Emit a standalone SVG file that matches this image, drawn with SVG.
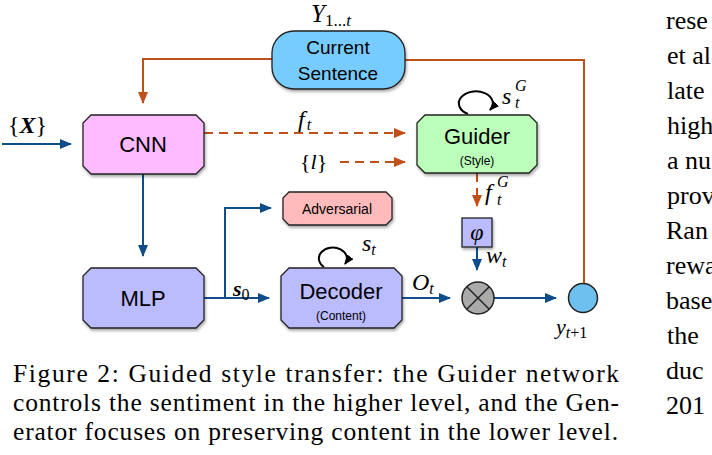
<svg xmlns="http://www.w3.org/2000/svg" width="712" height="455" viewBox="0 0 712 455">
<style>
.box{stroke:#222;stroke-width:1.3;filter:url(#sh)}
.lbl{font-family:"Liberation Sans",Arial,sans-serif;fill:#000;text-anchor:middle}
.m{font-family:"Liberation Serif","Times New Roman",serif;font-style:italic;fill:#000}
.u{font-style:normal}
.blue{stroke:#0F4C8A;stroke-width:2;fill:none}
.or{stroke:#C0501A;stroke-width:2;fill:none}
.dash{stroke-dasharray:9,6}
.cap{font-family:"Liberation Serif","Times New Roman",serif;font-size:25.5px;fill:#000}
.col{font-family:"Liberation Serif","Times New Roman",serif;font-size:26px;fill:#000}
</style>
<defs>
<filter id="sh" x="-10%" y="-10%" width="130%" height="140%"><feDropShadow dx="1" dy="2" stdDeviation="1.5" flood-color="#000" flood-opacity="0.35"/></filter>
<marker id="ab" markerWidth="12" markerHeight="10" refX="11" refY="5" orient="auto" markerUnits="userSpaceOnUse"><path d="M0,0 L12,5 L0,10 Z" fill="#0F4C8A"/></marker>
<marker id="ao" markerWidth="12" markerHeight="10" refX="11" refY="5" orient="auto" markerUnits="userSpaceOnUse"><path d="M0,0 L12,5 L0,10 Z" fill="#C0501A"/></marker>
<marker id="ak" markerWidth="10" markerHeight="8" refX="9" refY="4" orient="auto" markerUnits="userSpaceOnUse"><path d="M0,0 L10,4 L0,8 Z" fill="#000"/></marker>
</defs>

<g id="connectors">
<path class="or" d="M272,59 H143 V103" marker-end="url(#ao)"/>
<path class="or" d="M405,60 H584 V283"/>
<path class="or dash" d="M204,133 H405" marker-end="url(#ao)"/>
<path class="or dash" d="M340,162 H405" marker-end="url(#ao)"/>
<path class="or dash" d="M477,173 V206" marker-end="url(#ao)"/>
<path class="blue" d="M2,144 H71" marker-end="url(#ab)"/>
<path class="blue" d="M143,174 V256" marker-end="url(#ab)"/>
<path class="blue" d="M204,298 H269" marker-end="url(#ab)"/>
<path class="blue" d="M225,298 V208 H271" marker-end="url(#ab)"/>
<path class="blue" d="M477,247 V270" marker-end="url(#ab)"/>
<path class="blue" d="M402,298 H450" marker-end="url(#ab)"/>
<path class="blue" d="M494,298 H556" marker-end="url(#ab)"/>
<path d="M468,114 A17,12 0 1 1 490,110" fill="none" stroke="#000" stroke-width="2" marker-end="url(#ak)"/>
<path d="M324,267 A14,11 0 1 1 345,264" fill="none" stroke="#000" stroke-width="2" marker-end="url(#ak)"/>
</g>

<g id="current">
<rect class="box" x="272" y="31" width="133" height="58" rx="22" fill="#77CCFF"/>
<text class="lbl" x="338" y="54" font-size="19">Current</text>
<text class="lbl" x="338" y="80" font-size="19">Sentence</text>
<text class="m" x="311" y="22" font-size="25">Y<tspan class="u" font-size="17" dy="4">1...</tspan><tspan font-size="17">t</tspan></text>
</g>

<g id="cnn">
<path class="box" fill="#FFBBFF" d="M91,115 H196 L204,123 V166 L196,174 H91 L83,166 V123 Z"/>
<text class="lbl" x="143" y="152" font-size="22">CNN</text>
</g>

<g id="guider">
<path class="box" fill="#BBFFBB" d="M425,115 H529 L537,123 V165 L529,173 H425 L417,165 V123 Z"/>
<text class="lbl" x="477" y="144" font-size="22">Guider</text>
<text class="lbl" x="477" y="165" font-size="12">(Style)</text>
</g>

<g id="mlp">
<path class="box" fill="#BBBBFF" d="M91,268 H196 L204,276 V320 L196,328 H91 L83,320 V276 Z"/>
<text class="lbl" x="143" y="306" font-size="22">MLP</text>
</g>

<g id="decoder">
<path class="box" fill="#BBBBFF" d="M289,268 H394 L402,276 V320 L394,328 H289 L281,320 V276 Z"/>
<text class="lbl" x="341" y="299" font-size="22">Decoder</text>
<text class="lbl" x="341" y="320" font-size="12">(Content)</text>
</g>

<g id="adversarial">
<path class="box" fill="#FFBBBB" d="M289,192 H386 L392,198 V219 L386,225 H289 L283,219 V198 Z"/>
<text class="lbl" x="337" y="214" font-size="14">Adversarial</text>
</g>

<g id="phi">
<rect class="box" x="462" y="218" width="30" height="29" fill="#BBBBFF"/>
<text class="m" x="477" y="240" font-size="24" text-anchor="middle">φ</text>
</g>

<g id="otimes">
<circle cx="478" cy="298" r="16" fill="#AAAAAA" stroke="#222" stroke-width="1.5"/>
<path d="M467,287 L489,309 M489,287 L467,309" stroke="#222" stroke-width="1.5"/>
</g>

<g id="ynode">
<circle cx="583" cy="298" r="14.5" fill="#6EC0EE" stroke="#222" stroke-width="1.5"/>
<text class="m" x="556" y="334" font-size="22">y<tspan font-size="16" dy="4">t</tspan><tspan class="u" font-size="16">+1</tspan></text>
</g>

<g id="labels">
<text class="m u" x="8" y="133" font-size="24">{<tspan font-weight="bold" font-style="italic">X</tspan>}</text>
<text class="m" x="298" y="127" font-size="24">f<tspan font-size="16" dy="3" dx="2">t</tspan></text>
<text class="m u" x="300" y="169" font-size="22">{<tspan font-style="italic">l</tspan>}</text>
<text class="m" x="502" y="104" font-size="24">s</text>
<text class="m" x="515" y="91" font-size="16">G</text>
<text class="m" x="515" y="108" font-size="16">t</text>
<text class="m" x="485" y="200" font-size="24">f</text>
<text class="m" x="497" y="187" font-size="16">G</text>
<text class="m" x="497" y="205" font-size="16">t</text>
<text class="m" x="486" y="263" font-size="24">w<tspan font-size="16" dy="4">t</tspan></text>
<text class="m" x="362" y="251" font-size="24">s<tspan font-size="16" dy="4">t</tspan></text>
<text class="m" x="412" y="290" font-size="24">O<tspan font-size="16" dy="4">t</tspan></text>
<text class="m" x="233" y="296" font-size="22" font-weight="bold">s<tspan class="u" font-weight="normal" font-size="16" dy="4">0</tspan></text>
</g>

<g id="caption">
<text class="cap" x="13" y="382" textLength="606" lengthAdjust="spacing">Figure 2: Guided style transfer: the Guider network</text>
<text class="cap" x="13" y="411" textLength="606" lengthAdjust="spacing">controls the sentiment in the higher level, and the Gen-</text>
<text class="cap" x="13" y="440" textLength="605" lengthAdjust="spacing">erator focuses on preserving content in the lower level.</text>
</g>

<g id="column">
<text class="col" x="666" y="29">rese</text>
<text class="col" x="667" y="64" fill="#1A1A9A">et al</text>
<text class="col" x="667" y="99">late</text>
<text class="col" x="667" y="134">high</text>
<text class="col" x="667" y="169">a nu</text>
<text class="col" x="667" y="204">prov</text>
<text class="col" x="666" y="239">Ran</text>
<text class="col" x="666" y="274">rewa</text>
<text class="col" x="666" y="309">base</text>
<text class="col" x="667" y="344">the</text>
<text class="col" x="666" y="379">duc</text>
<text class="col" x="666" y="414" fill="#1A1A9A">201</text>
</g>
</svg>
